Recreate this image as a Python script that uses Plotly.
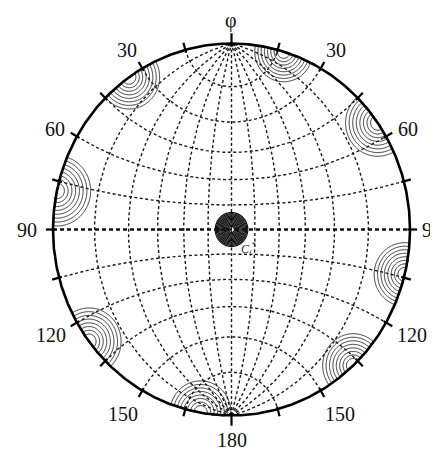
import numpy as np
import plotly.graph_objects as go

# ---------------- data ----------------
# texture poles near the rim: azimuth (deg, clockwise from top), radial position (0..1), spread
pole_azimuth = [-35, 17, 55, -78, 104, -127, 190, 137]
pole_radial = [1.0, 1.0, 1.0, 1.0, 1.0, 1.0, 1.0, 1.0]
pole_spread = [0.19, 0.18, 0.20, 0.21, 0.19, 0.20, 0.19, 0.19]
# central pole
center_pole = (0.0, 0.0)
center_spread = 0.096

net_step_deg = 15      # Wulff net spacing
tick_step_deg = 15     # rim ticks

label_text = ["φ", "30", "60", "90", "120", "150", "180", "150", "120", "90", "60", "30"]
label_u = [-0.005, 0.585, 0.99, 1.125, 1.011, 0.608, 0.003, -0.608, -1.011, -1.146, -0.99, -0.583]
label_v = [1.124, 0.965, 0.54, 0.0, -0.565, -0.99, -1.134, -0.99, -0.565, 0.0, 0.54, 0.965]

# ---------------- figure geometry ----------------
WIN_W, WIN_H, BODY = 438, 449, 8          # window size and default page margin
W, H = WIN_W - BODY, WIN_H - BODY
CX, CY, RX, RY = 231.5, 229.5, 178.5, 186.0   # centre/radii in window pixels
x_range = [-(CX - BODY) / RX, (WIN_W - CX) / RX]
y_range = [(CY - WIN_H) / RY, (CY - BODY) / RY]

fig = go.Figure()


def stereo(lam_deg, phi_deg):
    lam = np.radians(lam_deg)
    phi = np.radians(phi_deg)
    x = np.cos(phi) * np.sin(lam)
    y = np.sin(phi)
    z = np.cos(phi) * np.cos(lam)
    return x / (1 + z), y / (1 + z)


# ---------- Wulff net ----------
mer_x, mer_y = [], []
phis = np.linspace(-90, 90, 361)
for lam in range(-90 + net_step_deg, 90, net_step_deg):
    X, Y = stereo(np.full_like(phis, lam), phis)
    mer_x += list(X) + [None]
    mer_y += list(Y) + [None]
fig.add_trace(go.Scatter(x=mer_x, y=mer_y, mode="lines",
                         line=dict(color="#1a1a1a", width=1.4, dash="3px,2.5px"),
                         hoverinfo="skip", showlegend=False))

par_x, par_y = [], []
lams = np.linspace(-90, 90, 361)
for ph in range(-90 + net_step_deg, 90, net_step_deg):
    if ph == 0:
        continue
    X, Y = stereo(lams, np.full_like(lams, ph))
    par_x += list(X) + [None]
    par_y += list(Y) + [None]
fig.add_trace(go.Scatter(x=par_x, y=par_y, mode="lines",
                         line=dict(color="#1a1a1a", width=1.4, dash="3px,2.5px"),
                         hoverinfo="skip", showlegend=False))

# equator (thick)
X, Y = stereo(lams, np.zeros_like(lams))
fig.add_trace(go.Scatter(x=X, y=Y, mode="lines",
                         line=dict(color="#111", width=2.6, dash="4px,3px"),
                         hoverinfo="skip", showlegend=False))

# ---------- pole density contours ----------
gx = np.linspace(-1.02, 1.02, 461)
gy = np.linspace(-1.02, 1.02, 461)
GX, GY = np.meshgrid(gx, gy)
inside = GX ** 2 + GY ** 2 <= 1.0

Z = np.zeros_like(GX)
for az, r, s in zip(pole_azimuth, pole_radial, pole_spread):
    px = r * np.sin(np.radians(az))
    py = r * np.cos(np.radians(az))
    d = np.sqrt((GX - px) ** 2 + (GY - py) ** 2)
    Z = np.maximum(Z, np.clip(1 - d / s, 0, None))
Z[~inside] = 0
fig.add_trace(go.Contour(x=gx, y=gy, z=Z, showscale=False, hoverinfo="skip",
                         contours=dict(coloring="lines", start=0.1, end=0.82, size=0.1),
                         colorscale=[[0, "#222"], [1, "#222"]],
                         line=dict(width=0.9)))

cgx = np.linspace(-0.15, 0.15, 241)
cgy = np.linspace(-0.15, 0.15, 241)
CGX, CGY = np.meshgrid(cgx, cgy)
dc = np.sqrt((CGX - center_pole[0]) ** 2 + (CGY - center_pole[1]) ** 2)
ZC = np.clip(1 - dc / center_spread, 0, None)
fig.add_trace(go.Contour(x=cgx, y=cgy, z=ZC, showscale=False, hoverinfo="skip",
                         contours=dict(coloring="lines", start=0.05, end=0.84, size=0.065),
                         colorscale=[[0, "#111"], [1, "#111"]],
                         line=dict(width=1.2)))

# ---------- primitive circle & ticks ----------
t = np.linspace(0, 2 * np.pi, 721)
fig.add_trace(go.Scatter(x=np.sin(t), y=np.cos(t), mode="lines",
                         line=dict(color="black", width=2.6),
                         hoverinfo="skip", showlegend=False))

tk_x, tk_y = [], []
for a in range(0, 360, tick_step_deg):
    ar = np.radians(a)
    r1 = 1.055 if a in (0, 180) else 1.04
    tk_x += [0.985 * np.sin(ar), r1 * np.sin(ar), None]
    tk_y += [0.985 * np.cos(ar), r1 * np.cos(ar), None]
fig.add_trace(go.Scatter(x=tk_x, y=tk_y, mode="lines",
                         line=dict(color="black", width=2.2),
                         hoverinfo="skip", showlegend=False))

# ---------- labels ----------
for txt, u, v in zip(label_text, label_u, label_v):
    fig.add_annotation(x=u, y=v, text=txt, showarrow=False,
                       xanchor="center", yanchor="middle",
                       font=dict(family="Liberation Serif", size=20, color="#111"))
fig.add_annotation(x=0.095, y=-0.11, text="<i>C</i><sub>f</sub><sup>*</sup>", showarrow=False,
                   font=dict(family="Liberation Serif", size=12, color="#333"))

fig.update_layout(width=W, height=H, margin=dict(l=0, r=0, t=0, b=0),
                  paper_bgcolor="white", plot_bgcolor="white", showlegend=False,
                  xaxis=dict(range=x_range, visible=False, fixedrange=True),
                  yaxis=dict(range=y_range, visible=False, fixedrange=True))

fig.write_html("out.html")
